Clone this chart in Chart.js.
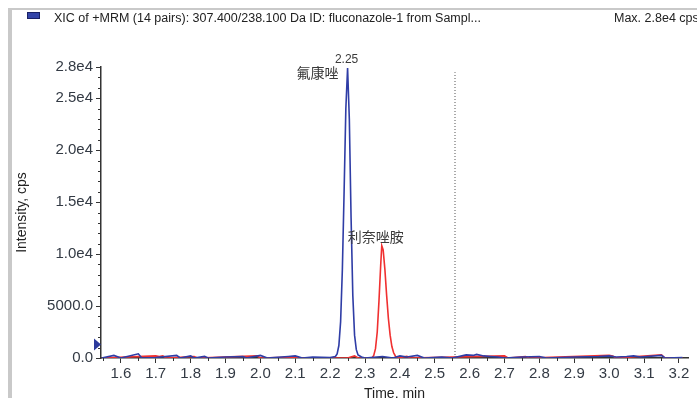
<!DOCTYPE html>
<html>
<head>
<meta charset="utf-8">
<script src="https://cdn.jsdelivr.net/npm/chart.js@4/dist/chart.umd.min.js"></script>
<style>
  html, body { margin: 0; padding: 0; background: #fff; }
  #wrap { width: 697px; height: 398px; position: relative; }
</style>
</head>
<body>
<div id="wrap"><canvas id="xic"></canvas></div>
<script>
// fluconazole (blue) trace, time in min / intensity in cps
const blueTime = [1.545, 1.58, 1.60, 1.65, 1.66, 1.70, 1.76, 1.77, 1.80, 1.81, 1.84, 1.85, 1.90, 1.95, 1.96,
  2.00, 2.02, 2.08, 2.10, 2.12, 2.15, 2.20, 2.215, 2.22, 2.225, 2.230, 2.235, 2.240, 2.245, 2.250, 2.255,
  2.260, 2.265, 2.270, 2.275, 2.280, 2.29, 2.30, 2.35, 2.38, 2.40, 2.42, 2.45, 2.47, 2.52, 2.55, 2.59,
  2.61, 2.62, 2.64, 2.66, 2.68, 2.70, 2.75, 2.80, 2.82, 2.90, 2.97, 3.00, 3.02, 3.05, 3.07, 3.09, 3.15,
  3.16, 3.21];
const blueInt = [0, 250, 0, 400, 0, 50, 250, 0, 200, 0, 150, 0, 100, 150, 0,
  250, 0, 150, 200, 0, 100, 50, 150, 400, 1200, 3500, 8500, 16000, 24000, 27900, 23000,
  13500, 6000, 2200, 800, 300, 100, 0, 150, 0, 200, 100, 250, 0, 100, 0, 300,
  250, 350, 200, 150, 100, 0, 100, 150, 0, 100, 150, 200, 100, 150, 200, 100, 250,
  0, 50];

// linezolid (red) trace
const redTime = [1.545, 1.70, 1.71, 1.72, 1.73, 1.81, 1.82, 1.99, 2.00, 2.10, 2.11, 2.25, 2.27, 2.28, 2.32,
  2.325, 2.330, 2.335, 2.340, 2.345, 2.348, 2.352, 2.357, 2.362, 2.367, 2.372, 2.377, 2.382, 2.387, 2.392,
  2.42, 2.43, 2.70, 2.71, 2.76, 2.77, 3.00, 3.01, 3.02, 3.15, 3.16, 3.21];
const redInt = [0, 200, 150, 200, 0, 150, 0, 200, 0, 100, 0, 0, 200, 0, 0,
  250, 900, 2500, 5500, 9000, 10800, 10400, 8500, 6000, 3800, 2200, 1100, 500, 200, 0,
  150, 0, 200, 0, 150, 0, 250, 200, 0, 300, 0, 0];

const markerTime = 2.558;   // dotted vertical cursor
const markerTop = 27500;
const thresholdLevel = 1300; // small triangle on the y axis

const xTicks = [1.6, 1.7, 1.8, 1.9, 2.0, 2.1, 2.2, 2.3, 2.4, 2.5, 2.6, 2.7, 2.8, 2.9, 3.0, 3.1, 3.2];
const yTicks = [0, 5000, 10000, 15000, 20000, 25000, 28000];
const yTickLabels = ['0.0', '5000.0', '1.0e4', '1.5e4', '2.0e4', '2.5e4', '2.8e4'];

const peakLabels = [
  { series: 0, text: '2.25', dx: -1, dy: -8, font: '12px "Liberation Sans", Arial, sans-serif' },
  { series: 0, text: '氟康唑', dx: -30, dy: 5, font: '14px "Noto Sans CJK SC", sans-serif' },
  { series: 1, text: '利奈唑胺', dx: -6, dy: -9, font: '14px "Noto Sans CJK SC", sans-serif' }
];

const toPoints = (xs, ys) => xs.map((x, i) => ({ x: x, y: ys[i] }));

const textColor = '#333a44';
const axisColor = '#333333';
const tickFont = { family: '"Liberation Sans", Arial, sans-serif', size: 15 };

// frame, header text, minor ticks, annotations
const decorations = {
    id: 'decorations',
    beforeDraw(chart) {
        const ctx = chart.ctx;
        ctx.save();
        ctx.fillStyle = '#c9c9c9';
        ctx.fillRect(8, 8, 697 - 8, 2);
        ctx.fillRect(8, 8, 4, 398 - 8);
        // legend swatch
        ctx.fillStyle = '#3344a8';
        ctx.fillRect(27, 12, 13, 7);
        ctx.strokeStyle = '#1a2266';
        ctx.lineWidth = 1;
        ctx.strokeRect(27.5, 12.5, 12, 6);
        ctx.fillStyle = '#222';
        ctx.font = '12.5px "Liberation Sans", Arial, sans-serif';
        ctx.textBaseline = 'middle';
        ctx.textAlign = 'left';
        ctx.fillText('XIC of +MRM (14 pairs): 307.400/238.100 Da ID: fluconazole-1 from Sampl...', 54, 19);
        ctx.fillText('Max. 2.8e4 cps', 614, 19);
        ctx.restore();
    },
    afterDraw(chart) {
        const ctx = chart.ctx;
        const x = chart.scales.x, y = chart.scales.y;
        ctx.save();
        ctx.strokeStyle = axisColor;
        ctx.lineWidth = 1;
        ctx.beginPath();
        for (let v = 1000; v < 28000; v += 1000) {
            if (v % 5000 === 0) continue;
            const py = Math.round(y.getPixelForValue(v)) + 0.5;
            ctx.moveTo(x.left - 3, py);
            ctx.lineTo(x.left, py);
        }
        for (let v = 1.55; v < 3.23; v += 0.1) {
            const px = Math.round(x.getPixelForValue(v)) + 0.5;
            ctx.moveTo(px, y.bottom);
            ctx.lineTo(px, y.bottom + 3);
        }
        ctx.stroke();

        // threshold triangle
        const ty = y.getPixelForValue(thresholdLevel);
        ctx.fillStyle = '#2c3a9c';
        ctx.beginPath();
        ctx.moveTo(x.left - 7, ty - 6);
        ctx.lineTo(x.left, ty);
        ctx.lineTo(x.left - 7, ty + 6);
        ctx.closePath();
        ctx.fill();

        // peak labels
        ctx.fillStyle = '#3a3a3a';
        ctx.textAlign = 'center';
        ctx.textBaseline = 'middle';
        peakLabels.forEach(l => {
            const ys = l.series === 0 ? blueInt : redInt;
            const xs = l.series === 0 ? blueTime : redTime;
            const i = ys.indexOf(Math.max(...ys));
            ctx.font = l.font;
            ctx.fillText(l.text, x.getPixelForValue(xs[i]) + l.dx, y.getPixelForValue(ys[i]) + l.dy);
        });
        ctx.restore();
    }
};

new Chart(document.getElementById('xic'), {
    type: 'line',
    data: {
        datasets: [
            {
                label: 'fluconazole',
                data: toPoints(blueTime, blueInt),
                borderColor: '#2f3da6',
                borderWidth: 1.6,
                pointRadius: 0,
                tension: 0
            },
            {
                label: 'linezolid',
                data: toPoints(redTime, redInt),
                borderColor: '#f03030',
                borderWidth: 1.6,
                pointRadius: 0,
                tension: 0
            },
            {
                label: 'cursor',
                data: toPoints([markerTime, markerTime], [0, markerTop]),
                borderColor: '#555',
                borderWidth: 1,
                borderDash: [1, 2],
                pointRadius: 0
            }
        ]
    },
    options: {
        responsive: true,
        maintainAspectRatio: false,
        animation: false,
        layout: { padding: { top: 67, right: 9, bottom: 0, left: 0 } },
        plugins: {
            legend: { display: false },
            tooltip: { enabled: false }
        },
        scales: {
            x: {
                type: 'linear',
                min: 1.543,
                max: 3.226,
                afterBuildTicks: s => { s.ticks = xTicks.map(v => ({ value: v })); },
                afterFit: s => { s.height = 40; },
                ticks: {
                    color: textColor,
                    font: tickFont,
                    padding: 2,
                    maxRotation: 0,
                    autoSkip: false,
                    callback: v => v.toFixed(1)
                },
                grid: { drawOnChartArea: false, drawTicks: true, tickLength: 5, color: axisColor },
                border: { display: true, color: axisColor, width: 1.5 },
                title: {
                    display: true,
                    text: 'Time, min',
                    color: '#222',
                    font: { family: '"Liberation Sans", Arial, sans-serif', size: 14 },
                    padding: { top: 0, bottom: -5 }
                }
            },
            y: {
                min: 0,
                max: 28000,
                afterBuildTicks: s => { s.ticks = yTicks.map(v => ({ value: v })); },
                afterFit: s => { s.width = 101; },
                ticks: {
                    color: textColor,
                    font: tickFont,
                    padding: 3,
                    autoSkip: false,
                    callback: v => yTickLabels[yTicks.indexOf(v)]
                },
                grid: { drawOnChartArea: false, drawTicks: true, tickLength: 5, color: axisColor },
                border: { display: true, color: axisColor, width: 1.5 },
                title: {
                    display: true,
                    text: 'Intensity, cps',
                    color: '#222',
                    font: { family: '"Liberation Sans", Arial, sans-serif', size: 14 },
                    padding: { top: 14, bottom: 0 }
                }
            }
        }
    },
    plugins: [decorations]
});
</script>
</body>
</html>
